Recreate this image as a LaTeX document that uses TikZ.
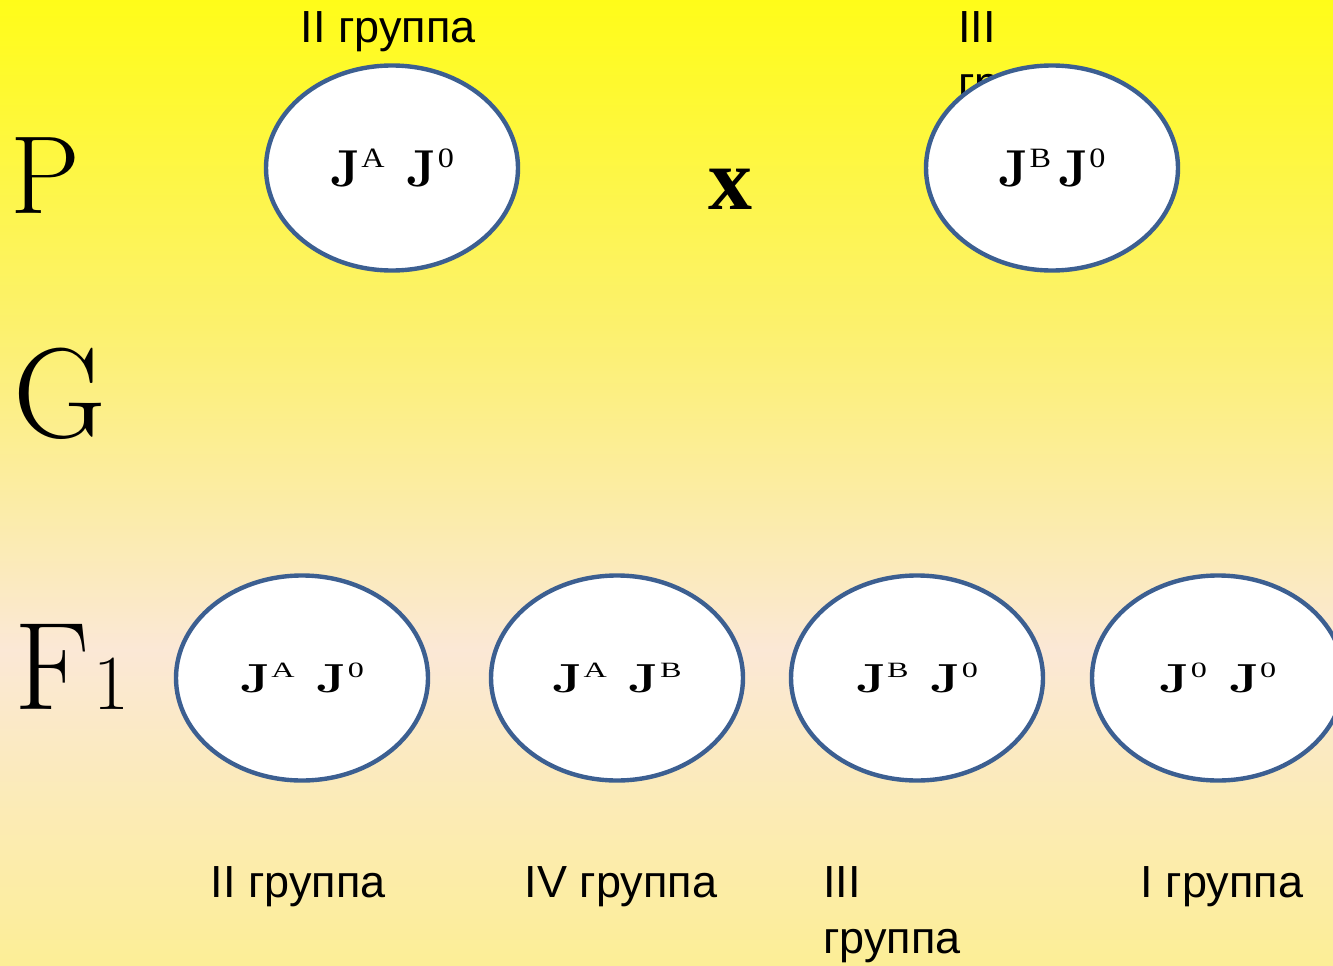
\documentclass[tikz,border=0pt]{standalone}
\usepackage{fontspec}
\usetikzlibrary{shapes.geometric}
\newfontfamily\arial{Liberation Sans}
\newfontfamily\tnr{Liberation Serif}
\definecolor{rim}{RGB}{60,95,145}
\definecolor{bgA}{RGB}{255,252,25}
\definecolor{bgB}{RGB}{252,241,110}
\definecolor{bgC}{RGB}{251,232,214}
\definecolor{bgD}{RGB}{252,238,150}
\newcommand\Jsup[1]{\textbf{J}\kern1pt\raisebox{19pt}{\tnr\fontsize{28}{28}\selectfont\mdseries\scalebox{1.15}[1]{#1}}}
\newcommand\gtxt[3]{{\fontsize{52}{52}\selectfont\Jsup{#1}\hspace{#3}\Jsup{#2}}}
\begin{document}
\begin{tikzpicture}[x=1pt,y=-1pt,
  gamete/.style={ellipse, draw=rim, line width=4.4pt, fill=white,
    minimum width=252pt, minimum height=205pt, inner sep=0pt},
  lbl/.style={font=\arial\fontsize{45}{45}\selectfont, anchor=base, inner sep=0pt},
  lbll/.style={font=\arial\fontsize{45}{45}\selectfont, anchor=base west, inner sep=0pt},
  gen/.style={anchor=base west, inner sep=0pt}]
\useasboundingbox (0,0) rectangle (1333,966);
\shade[top color=bgA, bottom color=bgB] (0,0) rectangle (1333,330);
\shade[top color=bgB, bottom color=bgC] (0,329) rectangle (1333,650);
\shade[top color=bgC, bottom color=bgD] (0,649) rectangle (1333,966);

% generation letters
\node[gen, font=\fontsize{111}{111}\selectfont] (P) at (10,213) {P};
\node[gen, font=\fontsize{128}{128}\selectfont] (G) at (13,437) {G};
\node[gen, font=\fontsize{125}{125}\selectfont] (F) at (14,709) {F\kern4pt\fontsize{78}{78}\selectfont 1};

% top labels
\node[lbl] (l1) at (388,43) {II группа};
\node[lbll] (l2a) at (958,43) {III};
\node[lbll] (l2b) at (958,99) {группа};

% parents
\node[gamete] (p1) at (392,168) {\gtxt{A}{0}{22pt}};
\node[gamete] (p2) at (1052,168) {\gtxt{B}{0}{7pt}};
\node[inner sep=0pt, anchor=base, font=\tnr\bfseries\fontsize{88}{88}\selectfont] (x) at (730,209) {x};

% F1
\node[gamete] (f1) at (302,678) {\scalebox{1}[0.78]{\gtxt{A}{0}{22pt}}};
\node[gamete] (f2) at (617,678) {\scalebox{1}[0.78]{\gtxt{A}{B}{22pt}}};
\node[gamete] (f3) at (917,678) {\scalebox{1}[0.78]{\gtxt{B}{0}{22pt}}};
\node[gamete] (f4) at (1218,678) {\scalebox{1}[0.78]{\gtxt{0}{0}{22pt}}};

% bottom labels
\node[lbl] (b1) at (298,897) {II группа};
\node[lbl] (b2) at (621,897) {IV группа};
\node[lbll] (b3a) at (823,897) {III};
\node[lbll] (b3b) at (823,953) {группа};
\node[lbl] (b4) at (1222,897) {I группа};
\end{tikzpicture}
\end{document}
